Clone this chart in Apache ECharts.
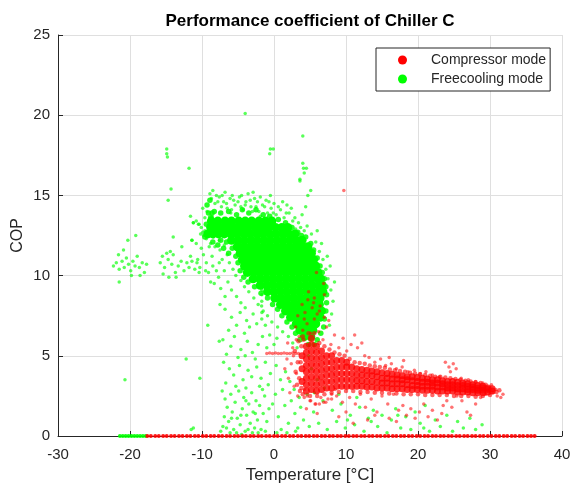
<!DOCTYPE html>
<html><head><meta charset="utf-8">
<script src="https://cdn.jsdelivr.net/npm/echarts@6/dist/echarts.min.js"></script>
<style>html,body{margin:0;padding:0;background:#fff}#c{width:571px;height:487px}</style>
</head><body><div id="c"></div>
<script>
const titleText = 'Performance coefficient of Chiller C';
const seriesNames = ['Compressor mode', 'Freecooling mode'];
const xName = 'Temperature [°C]';
const yName = 'COP';

// Freecooling mode: dense core, rows of [COP, [temperatures]]
const greenCoreRows = [
  [13.4, [-8.7, -7.8, -6.8, -5.9, -4.9, -4.0, -3.1, -2.1, -1.2, -0.3]],
  [13.0, [-8.8, -8.1, -7.3, -6.4, -5.5, -4.5, -3.6, -2.6, -1.7, -0.8, 0.2, 1.1, 1.9]],
  [12.6, [-9.2, -8.5, -7.7, -6.9, -6.0, -5.1, -4.2, -3.3, -2.4, -1.5, -0.6, 0.3, 1.2, 2.1, 2.9]],
  [12.2, [-5.9, -5.0, -4.1, -3.2, -2.3, -1.4, -0.5, 0.4, 1.3, 2.2, 3.1, 3.9]],
  [11.8, [-5.1, -4.2, -3.3, -2.4, -1.5, -0.6, 0.3, 1.2, 2.1, 3.0, 3.9, 4.7]],
  [11.4, [-4.7, -3.8, -2.9, -2.0, -1.1, -0.2, 0.7, 1.6, 2.5, 3.4, 4.3, 5.2]],
  [11.0, [-4.4, -3.5, -2.6, -1.7, -0.8, 0.1, 1.0, 1.9, 2.8, 3.7, 4.6, 5.5]],
  [10.6, [-4.1, -3.2, -2.3, -1.4, -0.5, 0.4, 1.3, 2.2, 3.1, 4.0, 4.9, 5.8]],
  [10.2, [-3.7, -2.8, -1.9, -1.0, -0.1, 0.8, 1.7, 2.6, 3.5, 4.4, 5.3, 6.1]],
  [9.8, [-2.9, -2.0, -1.1, -0.2, 0.7, 1.6, 2.5, 3.4, 4.3, 5.2, 6.1, 6.5]],
  [9.4, [-1.9, -1.0, -0.1, 0.8, 1.7, 2.6, 3.5, 4.4, 5.3, 6.2, 6.7]],
  [9.0, [-0.9, 0.0, 0.9, 1.8, 2.7, 3.6, 4.5, 5.4, 6.3, 6.8]],
  [8.6, [0.1, 1.0, 1.9, 2.8, 3.7, 4.6, 5.5, 6.4]],
  [8.2, [0.9, 1.8, 2.7, 3.6, 4.5, 5.4, 6.3]],
  [7.8, [1.6, 2.5, 3.4, 4.3, 5.2, 6.1, 6.6]],
  [7.4, [2.3, 3.2, 4.1, 5.0, 5.9, 6.4]],
  [7.0, [3.1, 4.0, 4.9, 5.8]],
  [6.6, [3.6, 4.5, 5.4]],
  [6.2, [4.2, 5.1]]
];

// Freecooling mode: edge of the dense core [temperature, COP]
const greenEdge = [
  [-9.1,13.9],[-8.6,13.9],[-9.6,12.4],[-8.5,12.1],[-7.8,11.9],[-7.0,11.7],[-6.3,11.4],[-7.4,12.2],
  [-9.3,14.4],[-8.9,14.7],[-8.8,13.6],[-9.4,13.2],
  [-8.3,14.0],[-7.4,13.9],[-6.3,14.0],[-5.2,13.8],[-4.4,14.1],[-3.5,13.9],[-2.5,14.1],[-1.5,13.8],[-0.6,13.7],[0.6,13.5],
  [1.6,13.3],[2.5,13.0],[3.3,12.7],[3.8,12.5],
  [4.4,12.4],[5.1,12.0],[5.5,11.6],[6.0,11.1],[6.4,10.6],[6.7,10.2],[7.0,9.8],[7.2,9.3],[7.3,8.8],[7.3,8.3],
  [7.2,7.8],[7.0,7.3],[6.9,6.8],[6.5,6.4],[6.0,6.0],[5.6,5.7],[4.8,5.7],
  [-6.6,12.1],[-5.8,11.7],[-5.3,11.2],[-5.0,10.8],[-4.7,10.3],[-4.2,9.9],[-3.6,9.6],[-2.7,9.3],[-1.8,8.9],
  [-0.9,8.6],[-0.2,8.2],[0.5,7.9],[1.1,7.5],[1.8,7.1],[2.5,6.8],[3.0,6.4],[3.6,6.0]
];

// Freecooling mode: scattered points [temperature, COP]
const greenScatter = [
  [-8.9,15.1],[-8.7,14.8],[-8.2,14.5],[-7.6,14.9],[-7.0,14.6],[-6.5,14.2],[-6.1,14.8],[-5.4,14.4],[-4.8,14.9],[-4.3,14.1],
  [-3.9,14.6],[-3.2,14.3],[-2.7,14.8],[-2.1,14.0],[-1.6,14.4],[-0.9,13.9],[-0.4,14.2],[0.3,13.8],[0.9,14.1],[1.4,13.6],
  [2.1,13.9],[2.6,13.4],[3.0,12.9],[3.4,13.3],[-9.3,14.0],[-8.6,13.7],[-9.0,13.2],[-9.6,12.8],[-9.8,12.5],[-9.4,12.3],
  [-8.9,12.6],[-8.4,12.4],[-7.9,12.7],[-7.6,12.2],[-9.9,12.7],[-10.2,12.6],[-8.8,12.0],[-8.2,11.8],[-7.5,11.6],[-6.9,11.9],
  [-6.5,11.3],[-7.2,11.0],[-6.2,10.8],[-5.7,10.4],[-5.3,10.0],[-4.6,9.7],[-4.1,9.3],[-3.5,9.0],[-2.8,8.6],[-2.2,8.2],
  [-1.5,7.8],[-0.9,7.5],[-0.3,7.1],[0.5,6.8],[1.2,6.5],[2.0,6.2],[2.6,5.8],[3.2,5.5],
  [-8.0,15.0],[-6.8,15.2],[-5.8,15.0],[-5.0,14.6],[-3.6,15.1],[-2.3,14.6],[-1.1,14.7],[0.0,14.5],[1.2,14.6],[2.4,14.2],
  [-7.3,14.3],[-6.0,13.9],[-4.6,14.3],[-3.0,14.0],[-1.9,13.7],[-0.1,13.9],[1.7,13.9],[2.9,13.6],[3.7,13.0],[4.2,12.8],
  [-8.5,15.3],[-7.8,14.6],[-7.2,15.0],[-6.6,14.5],[-5.6,14.7],[-4.5,15.0],[-3.3,14.7],[-2.9,15.2],[-1.9,14.9],[-1.3,14.3],
  [-0.7,14.6],[0.6,14.3],[1.8,14.4],[-5.9,14.1],[-4.0,14.4],[-2.5,14.3],[-0.5,15.0],[-9.6,13.6],[-9.9,14.2],[-10.1,13.0],
  [-11.6,13.7],[-11.2,13.3],[-10.5,13.2],[-11.4,12.2],[-10.8,12.0],[-10.1,11.7],[-11.6,11.2],[-10.6,11.0],[-9.8,11.3],[-9.4,10.8],
  [-10.3,10.5],[-9.1,10.2],[-8.5,10.6],[-8.0,10.3],[-7.7,9.9],[-8.8,9.6],[-9.0,11.8],[-8.6,11.2],[-9.5,10.3],[-8.3,9.5],
  [-7.4,9.2],[-6.8,8.7],[-7.5,8.2],[-6.4,9.6],[-5.9,9.1],[-5.2,8.7],[-4.6,8.3],[-4.0,8.0],[-6.9,10.3],[-7.6,10.8],
  [5.8,12.1],[6.3,11.5],[6.8,11.0],[7.2,10.4],[7.5,9.8],[7.9,9.1],[8.2,8.4],[8.0,7.6],[7.7,6.9],[5.2,12.6],
  [4.6,13.1],[6.0,12.8],[6.6,12.0],[7.4,11.2],[7.0,9.4],[8.4,9.6],[7.8,10.6],[3.9,13.8],[4.4,14.3],
  [-1.7,7.3],[-1.68,7.7],[-1.72,8.1],[-1.7,8.4],[-1.69,8.8],[-1.71,9.1],[-1.7,9.5],
  [-6.8,7.9],[-5.9,7.4],[-4.7,7.7],[-3.8,7.2],[-2.9,7.6],[-2.4,7.0],[-3.4,6.8],[-5.2,6.9],[-6.3,6.6],[-4.1,6.4],
  [-1.2,6.9],[-0.6,6.3],[0.4,6.1],[-7.1,6.0],[-6.0,5.6],[-5.5,6.2],[-4.6,5.4],[-3.7,5.9],[-3.0,5.2],[-2.2,5.7],
  [-1.6,6.2],[-1.0,5.5],[0.0,5.7],[-6.6,5.1],[-5.0,4.9],[-4.0,5.0],[-2.6,4.8],
  [-7.0,4.6],[-6.2,4.2],[-5.6,3.8],[-4.8,4.4],[-4.3,3.5],[-3.6,4.1],[-3.1,3.7],[-2.4,4.3],[-1.8,3.6],[-1.2,4.6],
  [-0.5,3.9],[0.3,4.4],[0.9,3.5],[1.6,4.0],[2.2,3.4],[-6.7,3.3],[-5.3,3.1],[-3.9,3.0],[-2.0,3.1],[-0.8,3.2],
  [1.2,2.9],[2.8,2.9],[3.5,2.4],
  [-7.2,2.8],[-6.8,2.3],[-6.5,1.8],[-6.9,1.2],[-7.1,0.6],[-6.3,0.9],[-6.0,2.6],[-5.8,1.5],[-5.6,0.4],[-5.4,2.1],
  [-5.1,1.1],[-4.9,2.8],[-4.7,0.7],[-4.4,1.7],[-4.2,2.4],[-4.0,0.3],[-3.8,1.3],[-3.5,2.0],[-3.3,0.8],[-3.1,2.7],
  [-2.9,1.5],[-2.7,0.5],[-2.5,2.2],[-2.3,1.0],[-2.0,1.9],[-1.8,0.4],[-1.5,1.4],[-1.3,2.5],[-1.0,0.9],[-0.7,1.7],
  [-6.1,0.2],[-5.2,0.2],[-4.5,0.1],[-3.6,0.4],[-2.2,0.2],[-1.2,0.3],[-7.4,0.3],[-6.6,0.5],[-5.9,1.1],[-4.6,1.3],
  [-3.9,2.2],[-3.0,0.2],[-2.6,1.4],[-1.6,2.9],
  [0.2,2.6],[0.6,1.2],[1.0,0.4],[1.5,1.9],[2.0,0.8],[2.4,2.2],[2.9,1.4],[3.3,0.5],[3.7,1.8],[4.1,1.0],
  [4.6,2.6],[4.9,0.6],[0.4,0.2],[1.8,0.2],[3.0,0.3],[-0.2,2.0],
  [5.5,1.5],[6.2,0.8],[6.8,2.2],[7.4,0.4],[8.1,1.6],[8.7,0.9],[9.3,2.0],[9.9,0.5],[10.6,1.3],[11.2,0.7],
  [11.9,1.8],[12.5,0.3],[13.1,1.1],[13.8,1.6],[14.4,0.6],[15.0,1.3],[15.7,0.2],[16.3,1.0],[16.9,1.7],[17.6,0.5],
  [18.3,1.2],[19.0,0.4],[19.6,1.5],[20.3,0.8],[21.0,1.9],[21.6,0.3],[22.4,1.0],[23.1,0.6],[24.0,1.3],[24.8,0.3],
  [25.5,0.9],[26.3,0.5],[27.2,1.1],[28.0,0.4],[28.9,0.7],[7.0,3.0],[9.0,2.6],[11.5,2.4],[6.0,3.5],[5.2,4.2],
  [10.2,1.0],[13.5,0.9],[17.2,1.3],[20.8,0.5],[4.8,5.0],[5.6,2.7],
  [-22.3,10.6],[-21.9,10.8],[-21.5,10.4],[-21.1,10.9],[-20.8,10.5],[-20.5,11.1],[-20.2,10.7],[-19.9,10.3],[-19.6,10.9],[-19.3,10.6],
  [-19.0,11.2],[-18.7,10.5],[-18.3,10.8],[-18.0,10.2],[-17.7,10.7],[-21.6,11.3],[-20.9,11.6],[-20.3,12.2],[-19.2,12.5],[-21.5,9.6],
  [-19.8,10.0],[-18.6,10.0],
  [-15.8,10.8],[-15.5,11.2],[-15.2,10.5],[-14.9,11.4],[-14.7,11.0],[-14.4,11.5],[-14.2,10.7],[-14.0,11.3],[-13.7,10.2],[-15.4,10.1],
  [-14.6,9.9],[-13.3,10.6],[-12.9,10.9],[-12.5,10.3],[-12.1,10.8],[-11.8,10.5],[-11.4,10.9],[-11.0,10.4],[-10.7,10.8],[-10.4,10.2],
  [-14.0,12.4],[-12.8,11.8],[-11.4,12.2],[-11.2,13.3],[-10.8,13.4],[-10.4,13.2],[-13.6,9.9],
  [-14.9,17.9],[-14.9,17.6],[-14.8,17.4],[-11.8,16.7],[-14.3,15.4],[-14.7,14.7],[-4.0,20.1],[-0.5,17.9],[-0.1,17.9],[-0.6,17.6],
  [4.0,18.7],[4.0,17.0],[4.1,16.7],[4.5,16.7],[4.2,16.4],[3.6,16.0],[3.6,15.9],[5.1,15.3],[4.7,15.0],
  [-20.7,3.5],[-12.2,4.8],[-10.3,3.6],[-9.2,6.9],[-7.6,5.9],[-11.5,0.4],[-11.2,0.5]
];
const greenZeroX = [-21.4,-21.0,-20.6,-20.2,-19.8,-19.4,-19.0,-18.6,-18.2,-17.8];

// Compressor mode: dense band, columns of [temperature, [COP values]]
const redCoreCols = [
  [3.9, [3.4,4.2,5.0]],
  [4.5, [2.8,3.2,3.6,4.0,4.4,4.8,5.2,5.6]],
  [5.2, [2.9,3.3,3.7,4.1,4.5,4.9,5.3,5.7,6.1]],
  [5.9, [2.8,3.2,3.6,4.0,4.4,4.8,5.2,5.6]],
  [6.6, [2.9,3.3,3.7,4.1,4.5,4.9,5.3]],
  [7.3, [3.0,3.4,3.8,4.2,4.6,5.0]],
  [8.0, [3.0,3.4,3.8,4.2,4.6,5.0]],
  [8.7, [3.1,3.5,3.9,4.3,4.7]],
  [9.4, [3.1,3.5,3.9,4.3,4.7]],
  [10.1, [3.1,3.5,3.9,4.3,4.6]],
  [10.8, [3.1,3.5,3.9,4.3]],
  [11.5, [3.1,3.45,3.8,4.2]],
  [12.2, [3.1,3.45,3.8,4.15]],
  [12.9, [3.05,3.4,3.75,4.1]],
  [13.6, [3.05,3.4,3.75,4.05]],
  [14.3, [3.0,3.35,3.7,4.0]],
  [15.0, [3.0,3.3,3.6,3.95]],
  [15.7, [3.0,3.3,3.6,3.9]],
  [16.4, [2.95,3.25,3.55,3.85]],
  [17.1, [2.95,3.25,3.55,3.8]],
  [17.8, [2.95,3.25,3.5,3.75]],
  [18.5, [2.9,3.2,3.5,3.7]],
  [19.2, [2.9,3.15,3.45,3.7]],
  [19.9, [2.9,3.15,3.4,3.65]],
  [20.6, [2.85,3.1,3.35,3.6]],
  [21.3, [2.85,3.1,3.35,3.55]],
  [22.0, [2.85,3.1,3.3,3.5]],
  [22.7, [2.8,3.05,3.3,3.5]],
  [23.4, [2.8,3.05,3.25,3.45]],
  [24.1, [2.8,3.0,3.2,3.4]],
  [24.8, [2.8,3.0,3.2,3.4]],
  [25.5, [2.75,2.95,3.15,3.35]],
  [26.2, [2.75,2.95,3.15,3.3]],
  [26.9, [2.75,2.9,3.1,3.25]],
  [27.6, [2.7,2.9,3.05,3.2]],
  [28.3, [2.7,2.85,3.0,3.15]],
  [29.0, [2.7,2.85,3.0,3.1]],
  [29.7, [2.75,2.9,3.0]],
  [30.3, [2.8,2.95]]
];

// Compressor mode: edge of the dense band [temperature, COP]
const redEdge = [
  [3.2,3.2],[3.0,4.0],[3.3,4.6],[2.9,5.3],[3.4,5.9],[3.5,3.6],[3.6,2.8],[3.7,4.6],[3.8,3.0],[3.8,5.6],[4.1,6.0],
  [4.0,6.2],[4.8,6.4],[5.6,6.4],[6.3,5.8],[7.0,5.6],[7.7,5.4],[8.4,5.2],[9.1,5.1],[9.8,5.0],[10.5,4.8],
  [11.2,4.6],[11.9,4.55],[12.6,4.5],[13.3,4.4],[14.0,4.35],[14.7,4.3],[15.4,4.25],[16.1,4.15],[16.8,4.1],[17.5,4.05],
  [18.2,4.0],[18.9,3.95],[19.6,3.9],[20.3,3.85],[21.0,3.8],[21.7,3.75],[22.4,3.7],[23.1,3.7],[23.8,3.65],[24.5,3.6],
  [25.2,3.55],[25.9,3.5],[26.6,3.45],[27.3,3.4],[28.0,3.35],[28.7,3.3],[29.4,3.2],
  [4.0,2.6],[5.0,2.5],[6.0,2.5],[7.0,2.6],[8.0,2.7],[9.0,2.75],[10.0,2.8],[11.0,2.8],[12.0,2.75],[13.0,2.75],
  [14.0,2.7],[15.0,2.7],[16.0,2.65],[17.0,2.65],[18.0,2.6],[19.0,2.6],[20.0,2.6],[21.0,2.55],[22.0,2.55],[23.0,2.55],
  [24.0,2.55],[25.0,2.5],[26.0,2.5],[27.0,2.5],[28.0,2.45],[29.0,2.5],[30.0,2.55],[30.9,2.75],[31.3,2.85]
];

// Compressor mode: scattered points [temperature, COP]
const redScatter = [
  [3.5,6.2],[4.0,6.6],[4.6,7.0],[5.1,6.4],[5.6,7.3],[6.2,6.5],[6.8,6.0],[7.3,6.8],[7.9,5.7],[8.4,6.3],
  [9.0,5.5],[9.6,6.1],[10.1,5.3],[10.7,5.7],[11.2,6.3],[11.6,5.5],[12.2,5.8],[12.6,5.0],[3.3,7.5],[4.3,7.7],
  [5.3,8.0],[6.0,7.6],[3.9,8.2],[5.6,8.6],[6.4,8.1],[7.0,7.4],[3.0,6.8],[4.7,8.5],
  [13.2,4.9],[14.0,4.6],[14.8,4.8],[15.5,4.4],[16.3,4.5],[17.0,4.2],[17.8,4.3],[18.6,4.0],[19.5,4.1],[20.3,3.9],
  [21.1,4.0],[22.0,3.8],[23.0,3.7],[23.8,4.6],[24.3,4.3],[24.9,4.5],[25.3,4.2],[24.5,4.0],[26.0,3.6],[27.0,3.5],
  [28.0,3.4],[29.0,3.3],[30.2,3.2],[16.0,4.9],[18.0,4.7],
  [4.2,2.4],[5.0,2.2],[5.8,2.0],[6.5,2.4],[7.2,2.1],[8.0,2.3],[8.7,2.5],[4.5,1.7],[6.0,1.4],[9.5,2.1],
  [10.5,2.4],[11.3,2.0],[12.0,2.6],[12.7,1.8],[13.5,2.3],[14.3,1.5],[15.0,2.5],[15.8,2.0],[16.6,2.6],[17.3,1.6],
  [17.9,1.9],[18.4,1.3],[19.0,1.7],[19.6,1.1],[20.2,1.5],[20.8,2.0],[21.4,1.2],[22.0,1.6],[22.7,1.0],[23.3,1.4],
  [24.0,2.2],[24.7,1.8],[25.4,2.5],[26.1,2.2],[26.8,1.5],[27.3,1.3],[28.0,2.0],[28.7,2.4],[29.4,2.6],[30.4,2.7],
  [31.0,2.5],[31.5,2.4],[31.8,2.6],[30.8,2.9],[10.0,1.5],[11.0,0.8],[13.0,1.0],[16.0,1.1],[9.0,1.2],
  [4.2,2.9],[4.6,2.5],[5.1,2.2],[5.7,2.0],[6.3,2.0],[6.9,2.1],[7.5,2.3],[8.0,2.6],[8.5,2.9],
  [-1.0,5.15],[-0.6,5.17],[-0.2,5.15],[0.2,5.17],[0.6,5.15],[1.0,5.15],[1.4,5.17],[1.8,5.15],[2.2,5.15],[2.6,5.17],
  [3.0,5.15],[3.4,5.15],
  [4.8,9.0],[5.5,8.3],[6.3,7.8],[7.0,8.8],[7.6,7.2],[6.9,9.5],[5.9,10.2],[4.2,7.3],[3.1,6.0],[2.6,5.5],[1.9,5.8],
  [1.5,4.2],[2.0,3.6],[2.4,4.5],[2.8,3.1],[3.1,3.9],[2.2,2.7],[3.3,2.5],[1.8,4.8],[2.7,5.0],
  [9.7,15.3],[23.5,1.9],[17.0,0.9],[14.0,1.3]
];
const redZeroX = [-17.6,-17.1,-16.5,-16.0,-15.4,-14.9,-14.3,-13.8,-13.2,-12.7,-12.1,-11.6,-11.0,-10.5,-9.9,-9.4,-8.8,-8.3,
  -7.7,-7.2,-6.6,-6.1,-5.5,-5.0,-4.4,-3.9,-3.3,-2.8,-2.2,-1.7,-1.1,-0.6,0.0,0.5,1.1,1.6,2.2,2.7,3.3,3.8,4.4,4.9,5.5,6.0,
  6.6,7.1,7.7,8.2,8.8,9.3,9.9,10.4,11.0,11.5,12.1,12.6,13.2,13.7,14.3,14.8,15.4,15.9,16.5,17.0,17.6,18.1,18.7,19.2,19.8,
  20.3,20.9,21.4,22.0,22.5,23.1,23.6,24.2,24.7,25.3,25.8,26.4,26.9,27.5,28.0,28.6,29.1,29.7,30.2,30.8,31.3,31.9,32.4,
  33.0,33.5,34.1,34.6,35.2,35.7,36.2];

const RED = '#ff0000', GREEN = '#00ff00', INK = '#262626';
const FONT = 'Liberation Sans, Arial, Helvetica, sans-serif';
const greenCore = [];
greenCoreRows.forEach(([y, xs]) => xs.forEach(x => greenCore.push([x, y])));
const redCore = [];
redCoreCols.forEach(([x, ys]) => ys.forEach(y => redCore.push([x, y])));
const greenZero = greenZeroX.map(x => [x, 0]);
const redZero = redZeroX.map(x => [x, 0]);

function sc(name, data, size, color, opacity) {
  return { type: 'scatter', name, data, symbolSize: size, animation: false, silent: true,
    itemStyle: { color, opacity } };
}

const chart = echarts.init(document.getElementById('c'), null, { renderer: 'canvas' });
chart.setOption({
  backgroundColor: '#fff',
  animation: false,
  title: { text: titleText, left: 310, top: 13, padding: 0, textAlign: 'center',
    textStyle: { fontFamily: FONT, fontSize: 17, fontWeight: 'bold', color: '#000' } },
  legend: {
    data: [
      { name: seriesNames[0], itemStyle: { color: RED, opacity: 1 } },
      { name: seriesNames[1], itemStyle: { color: GREEN, opacity: 1 } }
    ],
    orient: 'vertical', left: 376, top: 48,
    padding: [5, 4, 5, 22], itemGap: 5, itemWidth: 9, itemHeight: 9, icon: 'circle',
    backgroundColor: '#fff', borderColor: INK, borderWidth: 1, borderRadius: 0,
    textStyle: { fontFamily: FONT, fontSize: 14, color: INK, padding: [0, 0, 0, 19] }
  },
  grid: { left: 58, right: 9, top: 35, bottom: 51, containLabel: false, outerBoundsMode: 'none' },
  xAxis: {
    type: 'value', min: -30, max: 40, interval: 10,
    name: xName, nameLocation: 'middle', nameGap: 31, nameMoveOverlap: false,
    nameTextStyle: { fontFamily: FONT, fontSize: 17, color: INK },
    axisLine: { show: true, onZero: false, lineStyle: { color: INK, width: 1 } },
    axisTick: { show: true, inside: true, length: 5, lineStyle: { color: INK } },
    axisLabel: { fontFamily: FONT, fontSize: 15, color: INK, margin: 11 },
    splitLine: { show: true, lineStyle: { color: '#dfdfdf', width: 1 } }
  },
  yAxis: {
    type: 'value', min: 0, max: 25, interval: 5,
    name: yName, nameLocation: 'middle', nameGap: 32, nameRotate: 90, nameMoveOverlap: false,
    nameTextStyle: { fontFamily: FONT, fontSize: 16, color: INK },
    axisLine: { show: true, onZero: false, lineStyle: { color: INK, width: 1 } },
    axisTick: { show: true, inside: true, length: 5, lineStyle: { color: INK } },
    axisLabel: { fontFamily: FONT, fontSize: 15, color: INK, margin: 8 },
    splitLine: { show: true, lineStyle: { color: '#dfdfdf', width: 1 } }
  },
  series: [
    sc(seriesNames[1], greenCore, 9, GREEN, 1),
    sc(seriesNames[1], greenEdge, 5.5, GREEN, 0.85),
    sc(seriesNames[1], greenScatter, 3.5, GREEN, 0.65),
    sc(seriesNames[1], greenZero, 4, GREEN, 0.9),
    sc(seriesNames[0], redCore, 7, RED, 0.8),
    sc(seriesNames[0], redEdge, 4.5, RED, 0.6),
    sc(seriesNames[0], redScatter, 3.5, RED, 0.55),
    sc(seriesNames[0], redZero, 4, RED, 0.9)
  ]
});
</script>
</body></html>
